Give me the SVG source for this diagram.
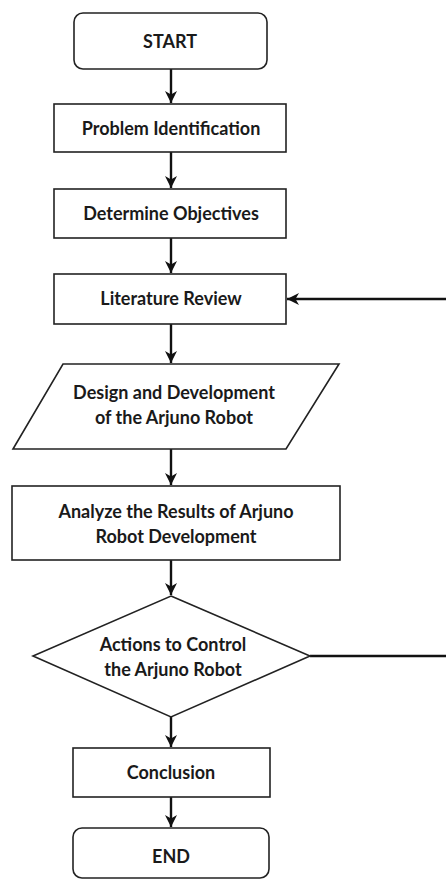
<svg xmlns="http://www.w3.org/2000/svg" width="446" height="879" viewBox="0 0 446 879">
<style>
.box{fill:#fff;stroke:#222;stroke-width:1.6}
.lbl{font-family:"Lato","Open Sans","Liberation Sans",sans-serif;font-weight:bold;font-size:18px;fill:#1a1a1a;text-anchor:middle;dominant-baseline:central}
.conn{fill:none;stroke:#111;stroke-width:2.4}
</style>
<defs>
<marker id="ah" markerUnits="userSpaceOnUse" markerWidth="14" markerHeight="14" refX="12" refY="6" orient="auto">
<path d="M0,0 L12,6 L0,12 L3.5,6 z" fill="#111"/>
</marker>
</defs>
<rect width="446" height="879" fill="#fff"/>
<g id="connectors">
<line class="conn" x1="171" y1="69" x2="171" y2="103" marker-end="url(#ah)"/>
<line class="conn" x1="171" y1="152" x2="171" y2="188" marker-end="url(#ah)"/>
<line class="conn" x1="171" y1="238" x2="171" y2="273" marker-end="url(#ah)"/>
<line class="conn" x1="171" y1="324" x2="171" y2="363" marker-end="url(#ah)"/>
<line class="conn" x1="171" y1="449" x2="171" y2="485" marker-end="url(#ah)"/>
<line class="conn" x1="171" y1="560" x2="171" y2="595" marker-end="url(#ah)"/>
<line class="conn" x1="171" y1="717" x2="171" y2="747" marker-end="url(#ah)"/>
<line class="conn" x1="171" y1="797" x2="171" y2="827" marker-end="url(#ah)"/>
<line class="conn" x1="310" y1="656" x2="446" y2="656"/>
<line class="conn" x1="446" y1="299" x2="287" y2="299" marker-end="url(#ah)"/>
</g>
<g id="start">
<rect class="box" x="74" y="13" width="193" height="56" rx="9"/>
<text class="lbl" x="170" y="41">START</text>
</g>
<g id="problem">
<rect class="box" x="54" y="104" width="232" height="48"/>
<text class="lbl" x="171" y="128">Problem Identification</text>
</g>
<g id="objectives">
<rect class="box" x="54" y="189" width="232" height="49"/>
<text class="lbl" x="171" y="213">Determine Objectives</text>
</g>
<g id="literature">
<rect class="box" x="54" y="274" width="232" height="50"/>
<text class="lbl" x="171" y="298">Literature Review</text>
</g>
<g id="design">
<polygon class="box" points="63,364 339,364 286,449 13,449"/>
<text class="lbl" x="174" y="392">Design and Development</text>
<text class="lbl" x="174" y="417">of the Arjuno Robot</text>
</g>
<g id="analyze">
<rect class="box" x="12" y="486" width="328" height="74"/>
<text class="lbl" x="176" y="511">Analyze the Results of Arjuno</text>
<text class="lbl" x="176" y="536">Robot Development</text>
</g>
<g id="decision">
<polygon class="box" points="171,596 310,656 171,717 33,656"/>
<text class="lbl" x="173" y="644">Actions to Control</text>
<text class="lbl" x="173" y="669">the Arjuno Robot</text>
</g>
<g id="conclusion">
<rect class="box" x="73" y="748" width="197" height="49"/>
<text class="lbl" x="171" y="772">Conclusion</text>
</g>
<g id="end">
<rect class="box" x="73" y="828" width="196" height="50" rx="9"/>
<text class="lbl" x="171" y="856">END</text>
</g>
</svg>
